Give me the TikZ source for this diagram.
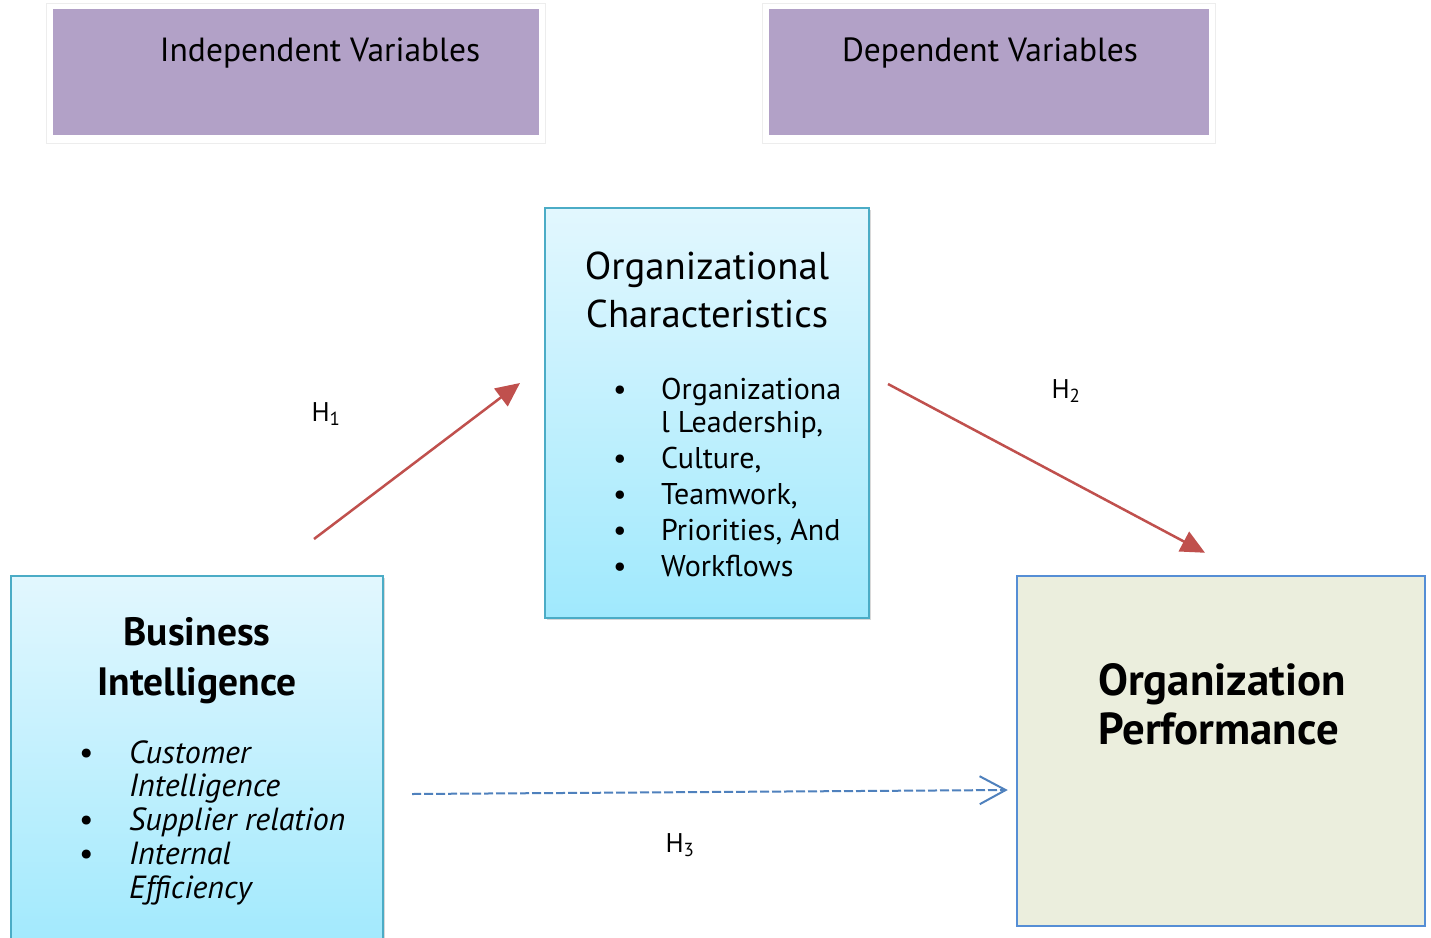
\documentclass[tikz,border=0pt]{standalone}
\usepackage{fontspec}
\setmainfont{PT Sans}
\usetikzlibrary{arrows.meta,shadows}

\definecolor{hdrpurple}{HTML}{B2A1C7}
\definecolor{skyedge}{HTML}{4BACC6}
\definecolor{skytop}{HTML}{E2F7FE}
\definecolor{skybot}{HTML}{A0E9FD}
\definecolor{perfedge}{HTML}{558ED5}
\definecolor{perffill}{HTML}{EBEEDD}
\definecolor{hypred}{HTML}{C0504D}
\definecolor{hypblue}{HTML}{4F81BD}

\begin{document}
\begin{tikzpicture}[x=1pt,y=-1pt,
	hdrframe/.style={draw=black!7,fill=white,minimum height=140pt,inner sep=0pt},
	hdrbox/.style={fill=hdrpurple,minimum height=126pt,inner sep=0pt},
	hdrtext/.style={anchor=base,font=\fontsize{33.5}{36}\selectfont},
	skybox/.style={draw=skyedge,line width=2pt,top color=skytop,bottom color=skybot,inner sep=0pt,
		drop shadow={shadow xshift=2pt,shadow yshift=-2pt,fill=black!30}},
	hypo/.style={draw=hypred,line width=2.5pt,-{Triangle[length=24pt,width=22pt]}},
	hlabel/.style={anchor=base,font=\fontsize{27}{30}\selectfont},
]
	\useasboundingbox[fill=white] (0,0) rectangle (1431,937);

	% header boxes
	\node[hdrframe,minimum width=499pt] (indepframe) at (295.5,73) {};
	\node[hdrbox,minimum width=486pt] (indep) at (296,72) {};
	\node[hdrtext] (indeptext) at (320,61) {Independent Variables};
	\node[hdrframe,minimum width=453pt] (depframe) at (989,73) {};
	\node[hdrbox,minimum width=440pt] (dep) at (989,72) {};
	\node[hdrtext] (deptext) at (990,61) {Dependent Variables};

	% organizational characteristics
	\node[skybox,minimum width=324pt,minimum height=410pt] (oc) at (707,413) {};
	\node[anchor=base,font=\fontsize{38.8}{48}\selectfont] (octitle) at (707,279)
		{\begin{tabular}[t]{@{}c@{}}Organizational\\Characteristics\end{tabular}};
	\node[anchor=base west,inner sep=0pt,font=\fontsize{30}{33}\selectfont] (oclist) at (613,399)
		{\begin{tabular}[t]{@{}p{48pt}@{}l@{}}
		\textbullet & Organizationa\\
		            & l Leadership,\\[3pt]
		\textbullet & Culture,\\[3pt]
		\textbullet & Teamwork,\\[3pt]
		\textbullet & Priorities, And\\[3pt]
		\textbullet & Workflows
		\end{tabular}};

	% business intelligence
	\node[skybox,minimum width=372pt,minimum height=380pt] (bi) at (197,766) {};
	\node[anchor=base,font=\bfseries\fontsize{39.5}{50}\selectfont] (bititle) at (197,645)
		{\begin{tabular}[t]{@{}c@{}}Business\\Intelligence\end{tabular}};
	\node[anchor=base west,inner sep=0pt,font=\itshape\fontsize{32}{33.8}\selectfont] (bilist) at (79,763)
		{\begin{tabular}[t]{@{}p{50pt}@{}l@{}}
		\upshape\textbullet & Customer\\
		                    & Intelligence\\
		\upshape\textbullet & Supplier relation\\
		\upshape\textbullet & Internal\\
		                    & Efficiency
		\end{tabular}};

	% organization performance
	\node[draw=perfedge,fill=perffill,line width=2.5pt,inner sep=0pt,
		minimum width=408pt,minimum height=350pt] (op) at (1221,751) {};
	\node[anchor=base west,inner sep=0pt,font=\bfseries\fontsize{44.8}{49}\selectfont] (optitle) at (1098,695)
		{\begin{tabular}[t]{@{}l@{}}Organization\\Performance\end{tabular}};

	% hypotheses
	\draw[hypo] ([shift={(-70,-36)}]bi.north east) -- ([shift={(-24,-30)}]oc.west);
	\draw[hypo] ([shift={(18,-29)}]oc.east) -- ([shift={(-16,-22)}]op.north);
	\draw[hypblue,line width=2pt,dash pattern=on 9pt off 3pt,-{Straight Barb[length=26pt,width=28pt]}]
		([shift={(28,219)}]bi.north east) -- ([shift={(-8,39)}]op.west);
	\node[hlabel] (h1) at (326,421) {H\textsubscript{1}};
	\node[hlabel] (h2) at (1066,398) {H\textsubscript{2}};
	\node[hlabel] (h3) at (680,852) {H\textsubscript{3}};
\end{tikzpicture}
\end{document}
